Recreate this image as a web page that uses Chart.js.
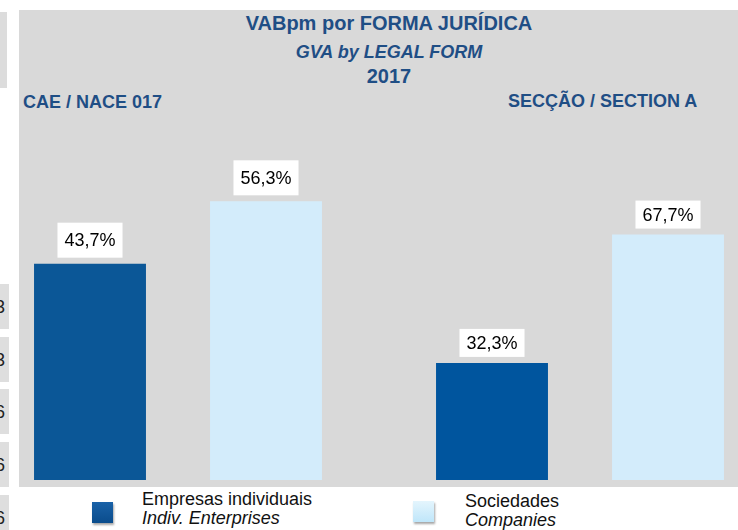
<!DOCTYPE html>
<html>
<head>
<meta charset="utf-8">
<script src="https://cdn.jsdelivr.net/npm/chart.js@4/dist/chart.umd.min.js"></script>
<style>
  html, body { margin: 0; padding: 0; width: 738px; height: 530px; overflow: hidden; background: #fff; }
  body { position: relative; font-family: "Liberation Sans", Arial, sans-serif; }
  .abs { position: absolute; white-space: nowrap; }
  .panel { left: 19px; top: 10px; width: 719px; height: 477px; background: #d9d9d9; }
  .cell { left: 0; width: 9px; background: #dedede; overflow: hidden; }
  .cell span { position: absolute; right: 4px; top: 50%; transform: translateY(-50%); font-size: 18px; color: #222; }
  .ttl { color: #1f4e85; font-weight: bold; text-align: center; left: 189px; width: 400px; line-height: 1; }
  .lbl { color: #1f4e85; font-weight: bold; font-size: 18px; line-height: 1; }
  .leg { font-size: 18px; color: #111; line-height: 19px; }
  .sq { width: 21px; height: 21px; box-shadow: 1px 2px 2px rgba(0,0,0,0.35); }
  canvas { position: absolute; }
</style>
</head>
<body>
<div class="abs" style="left:0;top:12px;width:7px;height:76px;background:#dcdcdc"></div>
<div class="abs cell" style="top:284px;height:45px"><span>3</span></div>
<div class="abs cell" style="top:337px;height:45px"><span>3</span></div>
<div class="abs cell" style="top:389px;height:45px"><span>6</span></div>
<div class="abs cell" style="top:442px;height:45px"><span>6</span></div>
<div class="abs cell" style="top:495px;height:45px"><span>6</span></div>

<div class="abs panel"></div>
<div class="abs ttl" style="top:13px;font-size:20px">VABpm por FORMA JURÍDICA</div>
<div class="abs ttl" style="top:43px;font-size:18px;font-style:italic">GVA by LEGAL FORM</div>
<div class="abs ttl" style="top:66px;font-size:20px">2017</div>
<div class="abs lbl" style="left:23px;top:93px">CAE / NACE 017</div>
<div class="abs lbl" style="left:508px;top:92px">SECÇÃO / SECTION A</div>

<canvas id="naceChart" width="352" height="380" style="left:2px;top:100px"></canvas>
<canvas id="sectionChart" width="352" height="380" style="left:404px;top:100px"></canvas>

<div class="abs sq" style="left:92px;top:502px;background:linear-gradient(#1a62a8,#0a4c8c)"></div>
<div class="abs leg" style="left:142px;top:490px">Empresas individuais<br><i>Indiv. Enterprises</i></div>
<div class="abs sq" style="left:413px;top:501px;background:linear-gradient(#e4f5fd,#bfe6fa)"></div>
<div class="abs leg" style="left:465px;top:492px">Sociedades<br><i>Companies</i></div>

<script>
// dados
const categories = ['Empresas individuais', 'Sociedades'];
const naceValues = [43.7, 56.3];     // CAE / NACE 017
const sectionValues = [32.3, 67.7];  // Secção A
const naceMax = 60;
const sectionMax = 80;

const darkNace = '#0b5797';
const darkSection = '#00559e';
const light = '#d3ecfb';

// caixas brancas com o valor por cima das barras
const labelBoxes = {
  id: 'labelBoxes',
  afterDatasetsDraw(chart, args, opts) {
    const ctx = chart.ctx;
    const meta = chart.getDatasetMeta(0);
    const values = chart.data.datasets[0].data;
    ctx.save();
    ctx.font = '18px "Liberation Sans", Arial, sans-serif';
    meta.data.forEach((bar, i) => {
      const txt = values[i].toFixed(1).replace('.', ',') + '%';
      const w = ctx.measureText(txt).width + 14;
      const h = opts.boxHeight;
      const top = bar.y - 6 - h;
      ctx.fillStyle = '#fff';
      ctx.fillRect(bar.x - w / 2, top, w, h);
      ctx.fillStyle = '#000';
      ctx.textAlign = 'center';
      ctx.textBaseline = 'middle';
      ctx.fillText(txt, bar.x, top + h / 2 + 1);
    });
    ctx.restore();
  }
};

function makeChart(id, values, colors, max, padTop, boxHeight) {
  return new Chart(document.getElementById(id), {
    type: 'bar',
    data: {
      labels: categories,
      datasets: [{
        data: values,
        backgroundColor: colors,
        borderWidth: 0,
        barPercentage: 0.636,
        categoryPercentage: 1
      }]
    },
    options: {
      responsive: false,
      animation: false,
      layout: { padding: { top: padTop, bottom: 0, left: 0, right: 0 } },
      scales: {
        x: { display: false },
        y: { display: false, min: 0, max: max }
      },
      plugins: {
        legend: { display: false },
        tooltip: { enabled: false },
        labelBoxes: { boxHeight: boxHeight }
      }
    },
    plugins: [labelBoxes]
  });
}

makeChart('naceChart', naceValues, [darkNace, light], naceMax, 83, 35);
makeChart('sectionChart', sectionValues, [darkSection, light], sectionMax, 90, 28);
</script>
</body>
</html>
